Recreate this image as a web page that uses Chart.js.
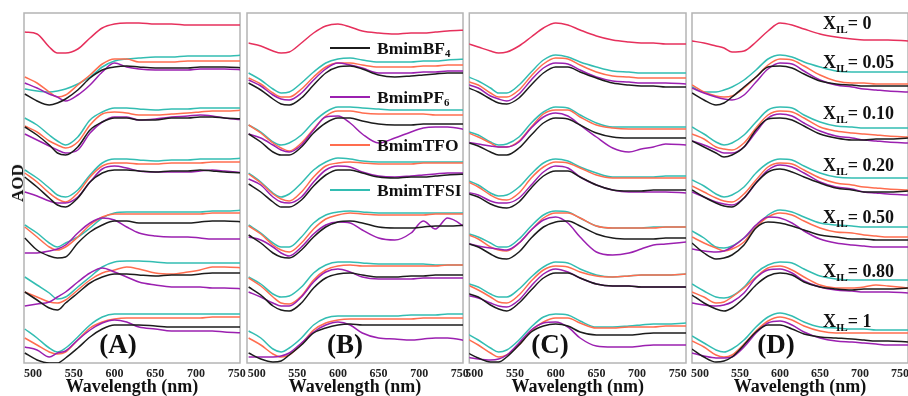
<!DOCTYPE html>
<html>
<head>
<meta charset="utf-8">
<script src="https://cdn.jsdelivr.net/npm/chart.js@4.4.1/dist/chart.umd.min.js"></script>
<style>
  body { margin: 0; background: #fff; width: 908px; height: 396px; overflow: hidden; position: relative;
         font-family: "Liberation Serif", "Times New Roman", serif; }
  canvas { position: absolute; top: 0; }
  .lbl { position: absolute; font-weight: bold; color: #111; white-space: nowrap; line-height: 18px; height: 18px; }
  .lbl sub { vertical-align: baseline; position: relative; top: 0.32em; font-size: 62%; }
  .key { position: absolute; height: 0; width: 40px; border-top: 2px solid; }
</style>
</head>
<body>
<script>
// wavelengths (nm) shared by every spectrum
const wavelength = [490, 505, 520, 530, 540, 555, 570, 585, 600, 615, 630, 650, 670, 690, 705, 720, 735, 760];
const tickValues = [500, 550, 600, 650, 700, 750];
const xilLabels = ['0', '0.05', '0.10', '0.20', '0.50', '0.80', '1'];
const ionicLiquids = ['BmimBF4', 'BmimPF6', 'BmimTFO', 'BmimTFSI'];

// offset AOD (arbitrary units), X_IL = 0 curve then groups 0.05 .. 1
// panel A
const pureA = [331,329,316,310,310,314,325,335,339,340,340,339,339,338,338,338,338,338];
const bf4A = [
  [269,262,258,260,264,273,285,293,296,297,296,295,295,295,296,296,296,295],
  [236,228,218,210,208,216,233,241,245,245,243,243,245,245,246,246,245,244],
  [186,176,165,158,156,165,181,190,193,193,192,191,192,192,193,192,191,190],
  [125,113,107,105,106,120,131,138,142,142,140,140,140,140,141,142,142,141],
  [71,63,55,53,60,70,80,86,89,89,88,87,88,88,89,90,90,90],
  [10,3,0,0,5,15,26,34,38,38,38,37,36,36,36,36,36,36]
];
const pf6A = [
  [280,275,269,266,262,268,278,291,300,296,294,293,293,293,294,294,294,293],
  [229,223,217,213,210,213,230,241,246,246,243,244,246,247,248,247,245,243],
  [171,167,162,160,160,166,181,194,197,195,192,191,191,191,192,193,192,190],
  [110,110,112,114,118,130,140,145,143,136,130,127,126,126,125,124,124,124],
  [57,59,61,66,71,81,90,95,91,86,81,78,76,76,76,75,75,74],
  [16,13,6,10,12,23,33,40,43,41,36,34,32,32,32,32,31,30]
];
const tfoA = [
  [286,280,271,266,268,278,288,299,304,304,301,301,301,302,302,302,302,302],
  [237,231,222,218,215,221,238,249,251,250,248,248,249,250,251,252,252,253],
  [190,181,170,164,161,170,186,197,200,200,199,199,200,200,200,201,201,201],
  [136,126,116,113,116,126,138,146,149,149,149,149,149,149,149,150,150,150],
  [71,66,61,60,63,73,83,90,93,96,94,90,89,91,93,96,96,95],
  [25,18,11,9,11,23,35,41,44,45,45,45,45,45,45,46,46,46]
];
const tfsiA = [
  [274,272,271,272,274,279,286,296,302,304,305,306,306,307,307,307,307,308],
  [245,238,228,222,218,226,243,251,255,255,254,253,254,254,255,255,255,255],
  [193,185,175,168,166,173,188,200,204,204,203,202,203,203,204,204,204,205],
  [138,130,120,116,120,126,135,145,150,151,151,151,151,151,151,152,152,153],
  [86,78,70,64,66,76,86,96,101,102,102,101,100,100,100,100,100,100],
  [34,25,15,11,15,26,38,46,49,49,49,49,49,49,49,49,49,49]
];

// panel B
const pureB = [320,317,312,310,311,320,330,337,339,336,332,330,329,330,330,331,332,333];
const bf4B = [
  [280,273,264,259,258,265,278,290,296,297,294,288,286,287,288,289,290,290],
  [229,221,211,208,208,216,230,240,245,245,242,239,238,238,239,239,239,239],
  [179,171,161,156,156,163,177,188,193,193,190,186,185,186,186,187,188,189],
  [128,120,110,106,105,113,126,136,141,142,140,136,135,135,136,137,137,138],
  [76,68,57,53,52,60,75,85,89,90,88,86,86,87,87,88,88,88],
  [10,4,1,2,8,18,30,35,38,39,38,38,38,38,38,38,38,38]
];
const pf6B = [
  [283,277,268,264,263,270,283,294,300,298,295,290,290,290,291,291,292,292],
  [229,225,218,213,211,218,233,246,247,240,229,220,225,231,235,236,236,233],
  [184,178,166,161,160,166,181,193,197,196,191,187,186,187,188,189,190,190],
  [126,123,116,110,107,116,129,138,141,140,133,125,123,130,142,134,145,134],
  [71,66,60,57,57,66,81,91,94,91,86,84,84,84,85,85,85,85],
  [6,6,6,7,10,20,31,38,41,38,30,25,24,23,24,25,25,22]
];
const tfoB = [
  [285,279,270,266,266,274,286,296,300,300,298,296,296,296,297,297,298,298],
  [238,230,220,215,212,220,234,247,252,252,250,249,249,249,249,248,248,248],
  [189,180,169,164,162,171,186,197,200,201,200,199,199,199,200,200,200,200],
  [137,129,118,113,111,120,134,144,148,150,149,148,148,148,148,149,149,149],
  [85,77,66,60,59,67,83,93,97,98,97,97,97,97,97,97,98,98],
  [25,18,9,6,8,19,33,40,43,44,44,44,44,44,45,45,45,45]
];
const tfsiB = [
  [290,283,274,270,271,280,291,300,304,305,303,301,301,301,302,302,303,304],
  [238,231,221,218,220,228,241,251,256,256,255,254,253,253,253,253,253,253],
  [190,181,170,166,169,180,193,201,205,204,202,201,201,201,201,201,201,201],
  [138,130,120,116,116,126,140,148,151,152,151,150,150,150,150,150,150,150],
  [86,79,69,66,67,76,90,98,101,101,100,99,99,99,99,98,98,98],
  [32,25,14,11,15,25,38,45,47,47,47,47,47,48,48,48,49,49]
];

// panel C
const pureC = [320,316,312,310,311,317,326,335,340,338,333,327,323,321,320,320,319,319];
const bf4C = [
  [276,271,264,260,259,265,278,290,296,296,291,285,280,278,277,277,276,276],
  [221,217,211,208,208,215,228,240,245,244,238,230,226,225,225,225,225,225],
  [170,166,159,156,155,161,175,187,192,192,186,178,173,172,172,173,173,173],
  [120,116,109,105,104,111,125,136,141,142,137,129,125,124,124,124,125,125],
  [70,66,58,54,52,60,73,85,90,90,85,79,77,77,76,76,76,76],
  [11,5,1,1,6,18,31,37,39,37,31,28,28,28,29,30,30,30]
];
const pf6C = [
  [279,275,267,264,262,269,283,295,300,299,293,286,282,281,280,280,280,279],
  [221,219,217,216,216,221,235,246,250,247,238,226,215,211,214,216,219,218],
  [171,168,162,160,160,165,178,191,197,195,186,178,173,171,171,171,171,170],
  [120,117,115,114,113,120,133,143,146,140,126,111,108,110,114,118,119,121],
  [68,65,60,57,56,63,77,89,94,91,85,79,77,77,76,76,76,76],
  [6,4,3,4,8,20,33,40,41,36,25,17,16,16,17,18,18,18]
];
const tfoC = [
  [282,278,270,266,266,273,287,299,305,304,298,291,287,286,285,285,285,285],
  [231,226,220,216,216,222,236,249,253,253,246,238,235,234,234,234,234,234],
  [182,176,168,164,163,170,185,196,201,200,195,188,185,185,185,185,185,185],
  [129,124,116,113,112,120,133,145,150,150,145,137,135,135,135,135,136,136],
  [79,73,66,61,60,68,82,93,97,96,91,87,86,87,88,88,88,89],
  [25,18,10,6,8,18,32,41,45,45,40,35,35,36,36,36,37,37]
];
const tfsiC = [
  [287,282,275,270,270,278,291,303,308,306,301,296,292,291,290,290,290,290],
  [232,228,221,218,219,226,240,251,256,255,248,240,236,236,236,236,236,236],
  [183,178,170,167,168,176,189,200,204,202,196,190,186,186,186,186,187,187],
  [130,126,120,116,116,124,137,148,152,151,145,137,135,135,135,136,136,136],
  [80,76,69,66,66,74,86,96,101,100,94,88,86,87,88,88,88,89],
  [30,23,15,11,13,23,36,46,49,48,42,36,36,37,38,39,39,40]
];

// panel D
const pureD = [322,320,317,315,311,312,321,332,340,338,334,329,326,324,323,323,323,322];
const bf4D = [
  [270,263,258,260,266,276,286,296,297,295,289,282,279,278,277,277,277,277],
  [222,216,210,206,208,216,233,244,245,243,237,229,225,223,223,224,224,225],
  [173,166,160,157,156,165,180,191,194,191,186,180,175,173,171,171,171,172],
  [120,110,104,105,108,118,135,141,140,137,133,128,126,124,124,123,123,123],
  [68,60,54,52,55,65,78,87,90,88,81,76,74,73,74,74,74,75],
  [14,6,1,2,6,18,31,38,38,34,29,26,25,24,23,22,22,21]
];
const pf6D = [
  [275,270,266,264,263,268,281,294,300,299,292,283,278,276,274,273,272,271],
  [222,218,213,210,210,216,231,245,249,247,240,232,227,225,223,222,221,220],
  [171,166,161,159,158,165,180,193,198,196,190,181,176,174,171,170,169,168],
  [114,112,111,112,116,125,138,146,145,140,132,124,120,118,117,116,116,116],
  [60,58,57,58,61,70,85,93,94,90,82,76,73,72,71,71,71,70],
  [10,7,5,5,6,16,30,40,42,38,31,25,22,21,20,19,18,18]
];
const tfoD = [
  [278,271,267,266,267,275,286,298,304,303,297,288,282,280,280,279,279,279],
  [229,224,216,214,213,220,235,248,252,251,245,236,232,230,229,228,227,226],
  [177,171,165,162,161,169,183,196,200,199,193,185,180,178,176,175,174,173],
  [126,120,115,112,114,121,136,146,150,148,142,135,131,130,128,127,126,126],
  [71,66,60,61,66,75,86,95,97,93,86,78,75,75,76,78,77,75],
  [22,16,8,6,8,19,32,42,46,43,37,32,30,30,30,30,30,30]
];
const tfsiD = [
  [276,271,271,273,276,283,293,304,308,306,301,296,292,291,291,291,291,291],
  [236,229,221,218,220,228,241,253,256,255,248,241,237,236,235,235,235,235],
  [183,177,169,166,168,176,190,200,204,203,197,190,186,185,185,185,185,185],
  [132,125,116,115,117,125,136,148,153,151,146,140,138,137,136,136,136,136],
  [79,72,66,65,67,76,90,98,101,100,94,87,84,83,83,83,83,83],
  [27,20,13,11,14,23,36,46,50,47,41,36,35,34,34,33,33,33]
];

const pureColor = '#e6305c';
const ilColors = ['#1c1c1c', '#9b20b0', '#ff6d4f', '#33bdb2'];
const fontFamily = '"Liberation Serif", "Times New Roman", serif';

const panels = [
  { tag: '(A)', left: 24,  right: 240, min: 489, max: 754, tagX: 118, pure: pureA, series: [bf4A, pf6A, tfoA, tfsiA] },
  { tag: '(B)', left: 247, right: 463, min: 488, max: 754, tagX: 345, pure: pureB, series: [bf4B, pf6B, tfoB, tfsiB] },
  { tag: '(C)', left: 469, right: 686, min: 494, max: 760, tagX: 550, pure: pureC, series: [bf4C, pf6C, tfoC, tfsiC] },
  { tag: '(D)', left: 692, right: 908, min: 490, max: 760, tagX: 776, pure: pureD, series: [bf4D, pf6D, tfoD, tfsiD] }
];

const frame = {
  id: 'frame',
  beforeDatasetsDraw(chart) {
    const { ctx, chartArea: a } = chart;
    ctx.save();
    ctx.strokeStyle = '#b4b4b4';
    ctx.lineWidth = 1.5;
    ctx.strokeRect(a.left, a.top, a.right - a.left, a.bottom - a.top);
    ctx.restore();
  }
};

function toPoints(arr) {
  return wavelength.map((w, i) => ({ x: w, y: arr[i] }));
}

function addLabel(html, x, y, size, extra) {
  const d = document.createElement('div');
  d.className = 'lbl';
  d.innerHTML = html;
  d.style.left = x + 'px';
  d.style.top = (y - 9) + 'px';
  d.style.fontSize = size + 'px';
  if (extra) Object.assign(d.style, extra);
  document.body.appendChild(d);
  return d;
}

panels.forEach(p => {
  const padL = 8, padR = 12;
  const canvas = document.createElement('canvas');
  canvas.width = p.right - p.left + padL + padR;
  canvas.height = 396;
  canvas.style.left = (p.left - padL) + 'px';
  document.body.appendChild(canvas);

  const datasets = [{ data: toPoints(p.pure), borderColor: pureColor }];
  for (let g = 0; g < 6; g++) {
    p.series.forEach((s, k) => {
      datasets.push({ label: ionicLiquids[k] + ' ' + xilLabels[g + 1], data: toPoints(s[g]), borderColor: ilColors[k] });
    });
  }

  new Chart(canvas.getContext('2d'), {
    type: 'line',
    data: { datasets },
    options: {
      responsive: false,
      animation: false,
      devicePixelRatio: 1,
      layout: { padding: { top: 13, left: padL, right: padR, bottom: 0 } },
      plugins: { legend: { display: false }, tooltip: { enabled: false } },
      elements: {
        point: { radius: 0 },
        line: { borderWidth: 1.5, cubicInterpolationMode: 'monotone', fill: false }
      },
      scales: {
        x: {
          type: 'linear',
          min: p.min,
          max: p.max,
          grid: { display: false, drawTicks: false },
          border: { display: false },
          afterBuildTicks: s => { s.ticks = tickValues.map(v => ({ value: v })); },
          afterFit: s => { s.height = 33; },
          ticks: { padding: 4, color: '#222', font: { family: fontFamily, size: 12, weight: 'bold' } },
          title: {
            display: true, text: 'Wavelength (nm)', padding: 0, color: '#111',
            font: { family: fontFamily, size: 18, weight: 'bold', lineHeight: 1 }
          }
        },
        y: { display: false, min: 0, max: 350 }
      }
    },
    plugins: [frame]
  });

  addLabel(p.tag, p.tagX, 344, 27, { transform: 'translateX(-50%)', lineHeight: '18px' });
});

// y axis title
addLabel('AOD', 18, 183, 17, { transform: 'translate(-50%, 0) rotate(-90deg)' });

// legend inside panel B
const keyY = [48, 97, 145, 190];
const keyText = ['BmimBF<sub>4</sub>', 'BmimPF<sub>6</sub>', 'BmimTFO', 'BmimTFSI'];
keyY.forEach((y, k) => {
  const line = document.createElement('div');
  line.className = 'key';
  line.style.left = '330px';
  line.style.top = (y - 1) + 'px';
  line.style.borderColor = ilColors[k];
  document.body.appendChild(line);
  addLabel(keyText[k], 377, y, 17.5);
});

// X_IL labels in panel D
const xilY = [23, 62, 113, 165, 217, 271, 321];
xilLabels.forEach((v, i) => addLabel('X<sub>IL</sub>= ' + v, 823, xilY[i], 18));
</script>
</body>
</html>
